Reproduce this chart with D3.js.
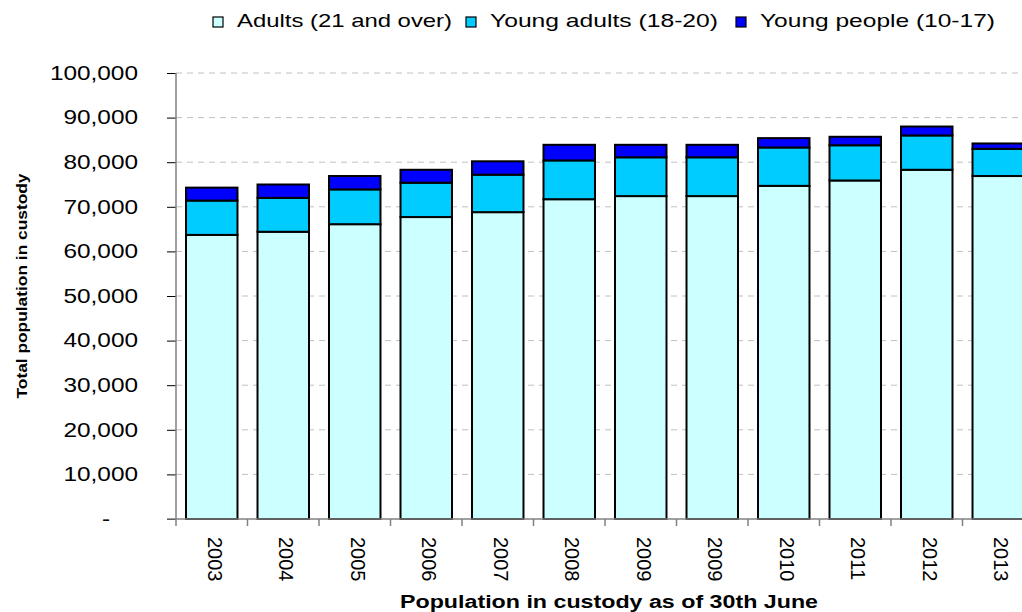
<!DOCTYPE html>
<html>
<head>
<meta charset="utf-8">
<script src="https://cdn.jsdelivr.net/npm/d3@7"></script>
<style>
  body { margin: 0; background: #fff; }
  svg { display: block; font-family: "Liberation Sans", Arial, sans-serif; }
</style>
</head>
<body>
<div id="chart"></div>
<script>
// constants for page set up
const FRAME_WIDTH = 1022;
const FRAME_HEIGHT = 612;
const MARGINS = {left: 176, right: -12, top: 73, bottom: 93};

const VIS_WIDTH = FRAME_WIDTH - MARGINS.left - MARGINS.right;
const VIS_HEIGHT = FRAME_HEIGHT - MARGINS.top - MARGINS.bottom;

// data (thousands)
const YEARS = ["2003", "2004", "2005", "2006", "2007", "2008", "2009", "2009", "2010", "2011", "2012", "2013"];
const ADULTS = [63.7, 64.4, 66.1, 67.7, 68.8, 71.7, 72.4, 72.4, 74.7, 75.9, 78.3, 76.9];
const YOUNG_ADULTS = [7.7, 7.6, 7.8, 7.7, 8.4, 8.7, 8.7, 8.7, 8.6, 7.9, 7.7, 6.1];
const YOUNG_PEOPLE = [2.9, 3.0, 3.0, 2.9, 3.0, 3.5, 2.8, 2.8, 2.1, 1.9, 2.0, 1.2];
const SERIES = ["Adults (21 and over)", "Young adults (18-20)", "Young people (10-17)"];
const COLORS = ["#ccffff", "#00ccff", "#0000ff"];
const Y_TICKS = [0, 10000, 20000, 30000, 40000, 50000, 60000, 70000, 80000, 90000, 100000];

const FRAME = d3.select("#chart")
  .append("svg")
  .attr("width", FRAME_WIDTH)
  .attr("height", FRAME_HEIGHT);

// build rows for the stack
const rows = YEARS.map((y, i) => ({
  idx: i,
  year: y,
  a: ADULTS[i] * 1000,
  ya: YOUNG_ADULTS[i] * 1000,
  yp: YOUNG_PEOPLE[i] * 1000
}));
const stacked = d3.stack().keys(["a", "ya", "yp"])(rows);

// scales
const X_SCALE = d3.scaleBand()
  .domain(rows.map(d => d.idx))
  .range([0, VIS_WIDTH])
  .paddingInner(0.28)
  .paddingOuter(0.14);

const Y_SCALE = d3.scaleLinear()
  .domain([0, 100000])
  .range([VIS_HEIGHT, 0]);

const plot = FRAME.append("g")
  .attr("transform", "translate(" + MARGINS.left + "," + MARGINS.top + ")");

// dashed gridlines
plot.append("g")
  .selectAll("line")
  .data(Y_TICKS.filter(t => t > 0))
  .enter()
  .append("line")
  .attr("x1", 0)
  .attr("x2", VIS_WIDTH)
  .attr("y1", d => Y_SCALE(d))
  .attr("y2", d => Y_SCALE(d))
  .attr("stroke", "#c0c0c0")
  .attr("stroke-width", 1)
  .attr("stroke-dasharray", "6,5");

// bars
const layers = plot.selectAll(".layer")
  .data(stacked)
  .enter()
  .append("g")
  .attr("class", "layer")
  .attr("fill", (d, i) => COLORS[i]);

layers.selectAll("rect")
  .data(d => d)
  .enter()
  .append("rect")
  .attr("x", d => X_SCALE(d.data.idx))
  .attr("y", d => Y_SCALE(d[1]))
  .attr("width", X_SCALE.bandwidth())
  .attr("height", d => Y_SCALE(d[0]) - Y_SCALE(d[1]))
  .attr("stroke", "#000")
  .attr("stroke-width", 2);

// y axis
const yAxis = plot.append("g")
  .call(d3.axisLeft(Y_SCALE)
    .tickValues(Y_TICKS)
    .tickSize(9)
    .tickPadding(29)
    .tickFormat(d => d === 0 ? "-" : d3.format(",")(d)));
yAxis.select(".domain").remove();
yAxis.selectAll(".tick line").attr("stroke", "#000");
yAxis.selectAll(".tick text")
  .attr("font-size", "19.5px")
  .attr("fill", "#000")
  .attr("font-family", "'Liberation Sans', Arial, sans-serif")
  .each(function(d) {
    const w = this.getComputedTextLength();
    d3.select(this).attr("textLength", w * 1.25).attr("lengthAdjust", "spacingAndGlyphs");
    if (d === 0) d3.select(this).attr("dx", -28);
  });

plot.append("line")
  .attr("x1", 0).attr("x2", 0)
  .attr("y1", 0).attr("y2", VIS_HEIGHT + 7)
  .attr("stroke", "#808080").attr("stroke-width", 1.5);

// x axis
plot.append("line")
  .attr("x1", -9).attr("x2", VIS_WIDTH)
  .attr("y1", VIS_HEIGHT).attr("y2", VIS_HEIGHT)
  .attr("stroke", "#808080").attr("stroke-width", 1.5);

plot.append("g")
  .selectAll("line")
  .data(d3.range(1, YEARS.length + 1))
  .enter()
  .append("line")
  .attr("x1", i => X_SCALE.range()[0] + i * X_SCALE.step())
  .attr("x2", i => X_SCALE.range()[0] + i * X_SCALE.step())
  .attr("y1", VIS_HEIGHT)
  .attr("y2", VIS_HEIGHT + 7)
  .attr("stroke", "#808080").attr("stroke-width", 1.5);

plot.append("g")
  .selectAll("text")
  .data(rows)
  .enter()
  .append("text")
  .attr("transform", d => "translate(" + (X_SCALE(d.idx) + X_SCALE.bandwidth() / 2 + 3) + "," + (VIS_HEIGHT + 18) + ") rotate(90)")
  .attr("dy", "0.35em")
  .attr("font-size", "20px")
  .attr("fill", "#000")
  .text(d => d.year);

// axis titles
FRAME.append("text")
  .attr("x", 609)
  .attr("y", 608)
  .attr("text-anchor", "middle")
  .attr("font-size", "18px")
  .attr("font-weight", "bold")
  .attr("textLength", 418)
  .attr("lengthAdjust", "spacingAndGlyphs")
  .text("Population in custody as of 30th June");

FRAME.append("text")
  .attr("transform", "translate(27,286) rotate(-90)")
  .attr("text-anchor", "middle")
  .attr("font-size", "15.5px")
  .attr("font-weight", "bold")
  .attr("textLength", 225)
  .attr("lengthAdjust", "spacingAndGlyphs")
  .text("Total population in custody");

// legend
const LEGEND_X = [213, 466, 736];
const LEGEND_W = [215, 228, 235];
const legend = FRAME.append("g");
SERIES.forEach((s, i) => {
  legend.append("rect")
    .attr("x", LEGEND_X[i]).attr("y", 17)
    .attr("width", 10).attr("height", 10)
    .attr("fill", COLORS[i])
    .attr("stroke", "#000").attr("stroke-width", 1.2);
  legend.append("text")
    .attr("x", LEGEND_X[i] + 24)
    .attr("y", 27)
    .attr("font-size", "18.5px")
    .attr("fill", "#000")
    .attr("textLength", LEGEND_W[i])
    .attr("lengthAdjust", "spacingAndGlyphs")
    .text(s);
});
</script>
</body>
</html>
